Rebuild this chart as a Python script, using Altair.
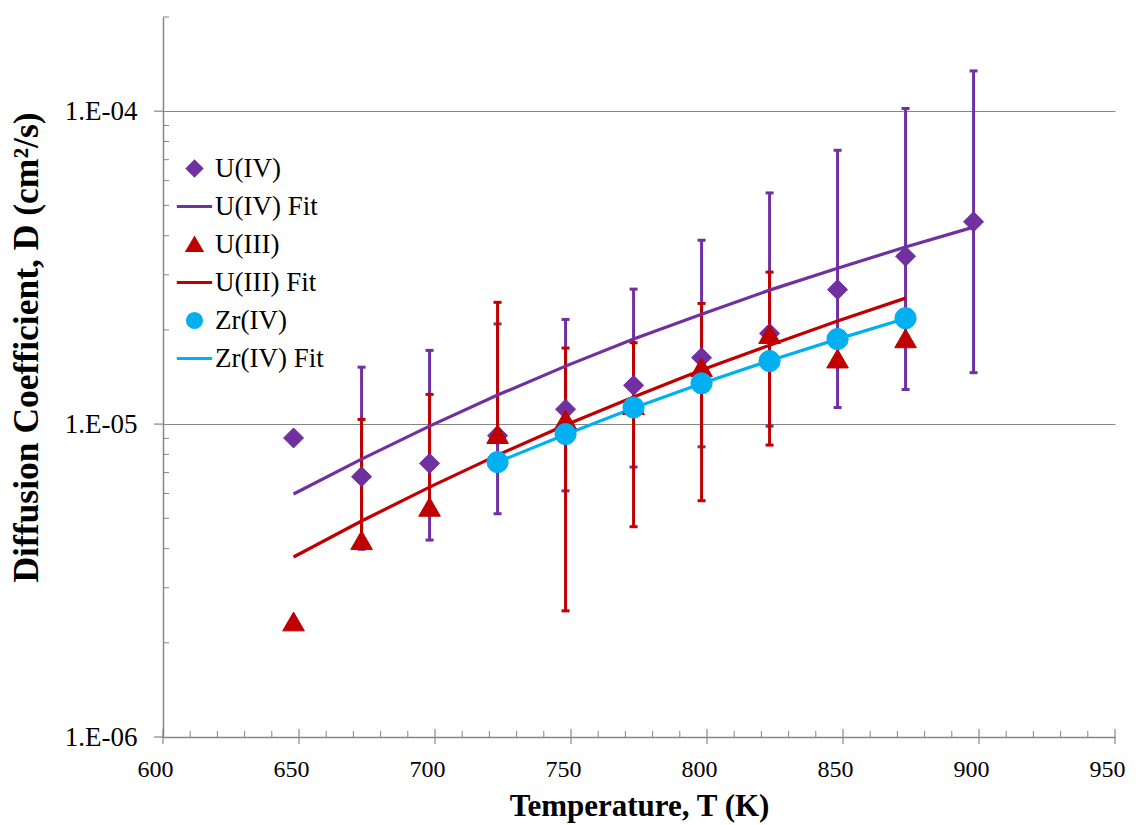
import altair as alt
import pandas as pd

# ---- measured diffusion coefficients (cm^2/s) vs temperature (K) ----
t_u4 = [648, 673, 698, 723, 748, 773, 798, 823, 848, 873, 898]
d_u4 = [9.03e-6, 6.79e-6, 7.49e-6, 9.18e-6, 1.116e-5, 1.33e-5, 1.63e-5, 1.95e-5, 2.69e-5, 3.44e-5, 4.43e-5]
fit_u4 = [5.98e-6, 7.73e-6, 9.85e-6, 1.238e-5, 1.532e-5, 1.869e-5, 2.246e-5, 2.68e-5, 3.15e-5, 3.68e-5, 4.26e-5]
t_u4_err = [673, 698, 723, 748, 773, 798, 823, 848, 873, 898]
u4_hi = [1.52e-5, 1.72e-5, 2.09e-5, 2.16e-5, 2.70e-5, 3.87e-5, 5.48e-5, 7.50e-5, 1.02e-4, 1.345e-4]
u4_lo = [3.98e-6, 4.26e-6, 5.17e-6, 6.12e-6, 7.29e-6, 8.46e-6, 9.85e-6, 1.13e-5, 1.29e-5, 1.46e-5]

t_u3 = [648, 673, 698, 723, 748, 773, 798, 823, 848, 873]
d_u3 = [2.34e-6, 4.26e-6, 5.44e-6, 9.29e-6, 1.035e-5, 1.15e-5, 1.52e-5, 1.94e-5, 1.62e-5, 1.88e-5]
fit_u3 = [3.76e-6, 4.90e-6, 6.29e-6, 7.96e-6, 9.93e-6, 1.220e-5, 1.488e-5, 1.788e-5, 2.134e-5, 2.527e-5]
t_u3_err = [673, 698, 723, 748, 773, 798, 823]
u3_d_err = [4.26e-6, 5.44e-6, 9.29e-6, 1.035e-5, 1.15e-5, 1.52e-5, 1.94e-5]
u3_hi = [1.035e-5, 1.244e-5, 2.45e-5, 1.75e-5, 1.82e-5, 2.43e-5, 3.06e-5]
u3_lo = [None, None, None, 2.53e-6, 4.70e-6, 5.69e-6, 8.57e-6]

t_zr = [723, 748, 773, 798, 823, 848, 873]
d_zr = [7.56e-6, 9.29e-6, 1.13e-5, 1.35e-5, 1.59e-5, 1.87e-5, 2.18e-5]
fit_zr = [7.56e-6, 9.26e-6, 1.125e-5, 1.348e-5, 1.595e-5, 1.869e-5, 2.174e-5]

series_names = ["U(IV)", "U(IV) Fit", "U(III)", "U(III) Fit", "Zr(IV)", "Zr(IV) Fit"]
series_colors = ["#7030A0", "#7030A0", "#C00000", "#C00000", "#00B0F0", "#00B0F0"]
LINE_SYMBOL = "M-2.5,0L2.5,0"
series_shapes = ["diamond", LINE_SYMBOL, "triangle-up", LINE_SYMBOL, "circle", LINE_SYMBOL]

x_ticks = list(range(600, 951, 50))
x_minor = [v for v in range(610, 950, 10) if v % 50]
y_ticks = [1e-6, 1e-5, 1e-4]
y_minor = [k * 10.0 ** n for n in (-6, -5, -4) for k in range(2, 10) if k * 10.0 ** n <= 2.0001e-4]

GRAY = "#868686"
FONT = "Liberation Serif"
W, H = 952, 720

# ---- scales, axes, legend ----
x_scale = alt.Scale(domain=[600, 950], nice=False, zero=False)
y_scale = alt.Scale(type="log", domain=[1e-6, 2e-4], nice=False)

x_axis = alt.Axis(
    values=x_ticks, ticks=False, grid=False, domainColor=GRAY, domainWidth=1.5,
    labelFont=FONT, labelFontSize=24, labelColor="black", labelPadding=20,
    labelFlush=False, labelOffset=-8,
    title="Temperature, T (K)", titleFont=FONT, titleFontSize=31, titleFontWeight="bold",
    titleColor="black", titlePadding=10,
)
y_axis = alt.Axis(
    values=y_ticks, ticks=False, grid=True, gridColor=GRAY, gridWidth=1.2,
    domainColor=GRAY, domainWidth=1.5,
    labelFont=FONT, labelFontSize=27, labelColor="black", labelPadding=26,
    labelExpr="'1.E-0' + format(-log(datum.value) / LN10, '.0f')",
    title="Diffusion Coefficient, D (cm²/s)", titleFont=FONT, titleFontSize=35.5,
    titleFontWeight="bold", titleColor="black", titleAngle=270,
    titleX=-137, titleY=330, titleAlign="center", titleBaseline="middle",
)

legend = alt.Legend(
    orient="none", legendX=18, legendY=138, title=None, padding=0,
    labelFont=FONT, labelFontSize=27, labelColor="black", labelOffset=7,
    symbolSize=200, symbolStrokeWidth=3, symbolOpacity=1, rowPadding=10,
)


def sfield(fld="series"):
    return dict(field=fld, type="nominal",
                scale=alt.Scale(domain=series_names, range=series_colors), legend=legend)


shape_enc = alt.Shape("series:N", scale=alt.Scale(domain=series_names, range=series_shapes), legend=legend)


def X(f="T"):
    return alt.X(f, type="quantitative", scale=x_scale, axis=x_axis)


def Y(f):
    return alt.Y(f, type="quantitative", scale=y_scale, axis=y_axis)


# ---- tables ----
u4_pts = pd.DataFrame({"T": t_u4, "D": d_u4, "series": "U(IV)"})
u3_pts = pd.DataFrame({"T": t_u3, "D": d_u3, "series": "U(III)"})
zr_pts = pd.DataFrame({"T": t_zr, "D": d_zr, "series": "Zr(IV)"})
u4_fit = pd.DataFrame({"T": t_u4, "D": fit_u4, "series": "U(IV) Fit"})
u3_fit = pd.DataFrame({"T": t_u3, "D": fit_u3, "series": "U(III) Fit"})
zr_fit = pd.DataFrame({"T": t_zr, "D": fit_zr, "series": "Zr(IV) Fit"})

u4_err = pd.DataFrame({"T": t_u4_err, "lo": u4_lo, "hi": u4_hi})
u4_caps = pd.DataFrame({"T": t_u4_err * 2, "v": u4_lo + u4_hi})
u3_err = pd.DataFrame({
    "T": t_u3_err,
    "lo": [l if l is not None else d for l, d in zip(u3_lo, u3_d_err)],
    "hi": u3_hi,
})
u3_caps = pd.DataFrame({
    "T": t_u3_err + [t for t, l in zip(t_u3_err, u3_lo) if l is not None],
    "v": u3_hi + [l for l in u3_lo if l is not None],
})


def err_layer(df, caps, color):
    bars = alt.Chart(df).mark_rule(color=color, strokeWidth=3).encode(
        x=X(), y=Y("lo"), y2="hi")
    ticks = alt.Chart(caps).mark_tick(color=color, orient="horizontal", size=8,
                                      thickness=3, opacity=1).encode(x=X(), y=Y("v"))
    return [bars, ticks]


def fit_layer(df):
    return alt.Chart(df).mark_line(strokeWidth=3.2).encode(
        x=X(), y=Y("D"), stroke=alt.Stroke(**sfield()))


def point_layer(df, size):
    return alt.Chart(df).mark_point(filled=True, size=size, opacity=1, strokeWidth=1).encode(
        x=X(), y=Y("D"),
        fill=alt.Fill(**sfield()), stroke=alt.Stroke(**sfield()), shape=shape_enc)


# ---- axis tick marks (inner minor, crossing major) ----
xminor = alt.Chart(pd.DataFrame({"T": x_minor})).mark_rule(color=GRAY, strokeWidth=1).encode(
    x=X(), y=alt.value(H - 6), y2=alt.value(H))
xmajor = alt.Chart(pd.DataFrame({"T": x_ticks})).mark_rule(color=GRAY, strokeWidth=1.2).encode(
    x=X(), y=alt.value(H - 8), y2=alt.value(H + 7))
yminor = alt.Chart(pd.DataFrame({"v": y_minor})).mark_rule(color=GRAY, strokeWidth=1).encode(
    y=Y("v"), x=alt.value(0), x2=alt.value(6))
ymajor = alt.Chart(pd.DataFrame({"v": y_ticks})).mark_rule(color=GRAY, strokeWidth=1.2).encode(
    y=Y("v"), x=alt.value(-9), x2=alt.value(0))

layers = (
    [xminor, xmajor, yminor, ymajor]
    + err_layer(u4_err, u4_caps, "#7030A0")
    + err_layer(u3_err, u3_caps, "#C00000")
    + [fit_layer(u4_fit), fit_layer(u3_fit), fit_layer(zr_fit)]
    + [point_layer(u4_pts, 400), point_layer(u3_pts, 470), point_layer(zr_pts, 450)]
)

chart = (
    alt.layer(*layers)
    .properties(
        width=W, height=H,
        autosize=alt.AutoSizeParams(type="none"),
        padding={"left": 163, "top": 17, "right": 25, "bottom": 88},
        background="white",
    )
    .configure_view(stroke=None)
)

chart.save("out.html", embed_options={"renderer": "svg", "actions": False})
